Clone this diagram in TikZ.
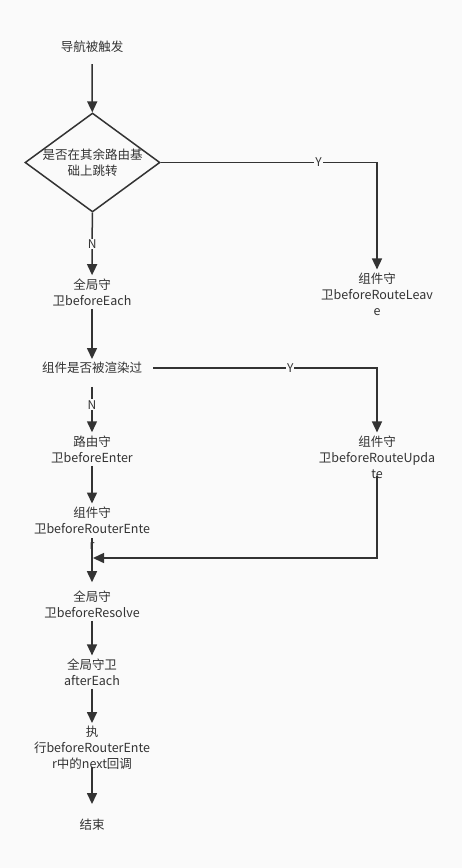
\documentclass[tikz,border=0pt]{standalone}
\usepackage{fontspec}
\setmainfont{Noto Sans CJK SC}
\usetikzlibrary{shapes.geometric,arrows.meta}

\definecolor{ink}{HTML}{333333}
\definecolor{bg}{HTML}{FAFAFA}

\tikzset{
  txt/.style={align=center, text=ink, inner sep=3pt, font=\fontsize{12.5}{16}\selectfont},
  decbox/.style={diamond, draw=ink, line width=1.5pt, aspect=1.35, minimum width=135pt, minimum height=99pt, inner sep=-2pt, align=center, text=ink, font=\fontsize{12.5}{16}\selectfont},
  arr/.style={draw=ink, line width=1.5pt, -{Triangle[length=11pt,width=10pt]}},
  lbl/.style={fill=bg, text=ink, inner sep=1pt, font=\fontsize{12}{14}\selectfont},
}

\begin{document}
\begin{tikzpicture}[x=1pt, y=-1pt]

% Canvas
\useasboundingbox[fill=bg] (0,0) rectangle (462,868);

% Main column
\node[txt] (start) at (92,47) {导航被触发};
\node[decbox] (dec) at (92.5,162.5) {是否在其余路由基\\础上跳转};
\node[txt] (each) at (92,292) {全局守\\卫beforeEach};
\node[txt] (rend) at (92,368) {组件是否被渲染过};
\node[txt] (enter) at (92,449) {路由守\\卫beforeEnter};
\node[txt] (renter) at (92,528) {组件守\\卫beforeRouterEnte\\r};
\node[txt] (resolve) at (92,604) {全局守\\卫beforeResolve};
\node[txt] (after) at (92,672) {全局守卫\\afterEach};
\node[txt] (exec) at (92,748) {执\\行beforeRouterEnte\\r中的next回调};
\node[txt] (stop) at (92,825) {结束};

% Right column
\node[txt] (leave) at (377,294) {组件守\\卫beforeRouteLeav\\e};
\node[txt] (update) at (377,457) {组件守\\卫beforeRouteUpda\\te};
\coordinate (join) at (92,558);

% Connectors
\draw[arr, shorten <=8pt] (start) -- (dec);
\draw[arr] (dec) -- node[lbl] {N} (each);
\draw[arr] (dec.east) -| node[lbl, pos=0.365] {Y} (leave);
\draw[arr] (each) -- (rend);
\draw[arr, shorten <=10pt] (rend) -- node[lbl] {N} (enter);
\draw[arr, shorten <=8pt] (rend.east) -| node[lbl, pos=0.313] {Y} (update);
\draw[arr] (enter) -- (renter);
\draw[arr, shorten >=1pt] ([yshift=6pt]update.south) |- (join);
\draw[arr, shorten >=5pt] ([yshift=14pt]renter.south) -- (resolve);
\draw[arr] (resolve) -- (after);
\draw[arr] (after) -- (exec);
\draw[arr, shorten >=12pt] ([yshift=6pt]exec.south) -- (stop);

\end{tikzpicture}
\end{document}
